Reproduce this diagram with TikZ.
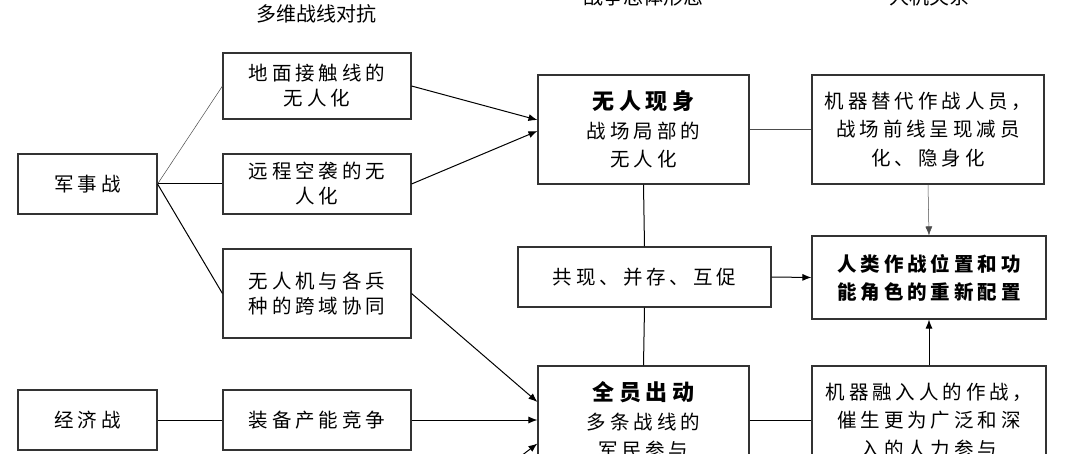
\documentclass[tikz,border=0pt]{standalone}
\usepackage{fontspec}
\newfontfamily\kai[LetterSpace=20]{Noto Sans CJK SC}
\newfontfamily\hei{Noto Sans CJK SC}
\usetikzlibrary{arrows.meta}

\begin{document}
\begin{tikzpicture}[x=1pt,y=-1pt,
  box/.style={draw=black!80, line width=1.1pt, align=center, inner sep=0pt,
    font=\kai\fontsize{19.5}{25}\selectfont},
  rbox/.style={box, font=\kai\fontsize{19.5}{28.5}\selectfont},
  head/.style={font=\hei\fontsize{20}{24}\selectfont},
  link/.style={line width=1pt},
  faint/.style={line width=0.5pt, black!70},
  arr/.style={line width=1pt, -{Latex[length=9pt,width=7pt]}}]
  \useasboundingbox (0,0) rectangle (1066,454);
  \clip (0,0) rectangle (1066,454);
  % headings
  \node[head] (h1) at (316,14) {多维战线对抗};
  \node[head] (h2) at (643,-3) {战争总体形态};
  \node[head] (h3) at (929,-3) {人机关系};
  % left column
  \node[box, minimum width=139, minimum height=60] (junshi) at (87.5,184) {军事战};
  \node[box, minimum width=139, minimum height=60] (jingji) at (87.5,420) {经济战};
  % fronts
  \node[box, minimum width=188, minimum height=66] (dimian)    at (317,86)    {地面接触线的\\无人化};
  \node[box, minimum width=188, minimum height=60] (yuancheng) at (317,184)   {远程空袭的无\\人化};
  \node[box, minimum width=188, minimum height=89] (wurenji)   at (317,293.5) {无人机与各兵\\种的跨域协同};
  \node[box, minimum width=188, minimum height=60] (zhuangbei) at (317,420)   {装备产能竞争};
  \coordinate (shehui) at (411,540);
  % war forms
  \node[rbox, minimum width=211, minimum height=109] (xianshen) at (643.5,129.5)
    {{\bfseries\fontsize{22}{28}\selectfont 无人现身}\\战场局部的\\无人化};
  \node[box, minimum width=253, minimum height=60] (gongxian) at (644.5,277) {共现、并存、互促};
  \node[rbox, minimum width=211, minimum height=109] (quanyuan) at (643.5,420.5)
    {{\bfseries\fontsize{22}{28}\selectfont 全员出动}\\多条战线的\\军民参与};
  % man-machine
  \node[rbox, minimum width=232, minimum height=109] (tidai) at (928,129.5)
    {机器替代作战人员，\\战场前线呈现减员\\化、隐身化};
  \node[rbox, minimum width=234, minimum height=83, font=\kai\bfseries\fontsize{19.5}{28}\selectfont] (peizhi) at (929,277.5)
    {人类作战位置和功\\能角色的重新配置};
  \node[rbox, minimum width=234, minimum height=109] (rongru) at (929,420.5)
    {机器融入人的作战，\\催生更为广泛和深\\入的人力参与};
  % connectors
  \draw[faint] (junshi.east) -- (dimian.west);
  \draw[link] (junshi.east) -- (yuancheng.west);
  \draw[link] (junshi.east) -- (wurenji.west);
  \draw[link] (jingji.east) -- (zhuangbei.west);
  \draw[arr] (dimian.east) -- ([yshift=9.5pt]xianshen.west);
  \draw[arr] (yuancheng.east) -- ([yshift=-1.5pt]xianshen.west);
  \draw[arr] (wurenji.east) -- ([yshift=18.5pt]quanyuan.west);
  \draw[arr] (zhuangbei.east) -- (zhuangbei.east -| quanyuan.west);
  \draw[arr] (shehui) -- ([yshift=-23pt]quanyuan.west);
  \draw[link] (xianshen.south) -- (gongxian.north);
  \draw[link] (gongxian.south) -- (quanyuan.north);
  \draw[faint] (xianshen.east) -- (tidai.west);
  \draw[link] (quanyuan.east) -- (rongru.west);
  \draw[arr] (gongxian.east) -- (peizhi.west);
  \draw[arr, line width=0.5pt, draw=black!70] (tidai.south) -- (peizhi.north);
  \draw[arr] (rongru.north) -- (peizhi.south);
\end{tikzpicture}
\end{document}
